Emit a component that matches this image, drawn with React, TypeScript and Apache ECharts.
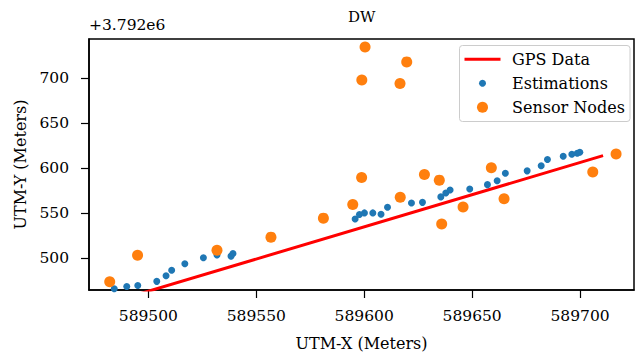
import React, { useEffect, useRef } from "react";
import * as echarts from "echarts";

const Y_OFFSET = 3792000;
const X_TICKS = [589500, 589550, 589600, 589650, 589700];
const Y_TICKS = [500, 550, 600, 650, 700];
const SERIES_NAMES = ["GPS Data", "Estimations", "Sensor Nodes"];
const SERIES_COLORS = ["#ff0000", "#1f77b4", "#ff7f0e"];

// GPS track (UTM-X, UTM-Y relative to offset)
const GPS_X = [589495, 589710];
const GPS_Y = [460.0, 613.6];

// Estimations
const EST_X = [
  589484.2, 589490.0, 589495.1, 589503.9, 589508.2, 589510.8, 589516.9, 589525.5,
  589531.8, 589538.3, 589539.2, 589595.8, 589597.8, 589600.1, 589604.0, 589607.8,
  589610.8, 589621.9, 589627.0, 589635.5, 589637.8, 589639.8, 589648.9, 589657.1,
  589661.6, 589665.4, 589675.5, 589682.0, 589684.9, 589692.2, 589696.2, 589698.7,
  589699.9,
];
const EST_Y = [
  466.2, 468.7, 469.8, 474.5, 480.7, 486.9, 494.1, 500.7,
  503.9, 502.5, 505.5, 543.7, 548.7, 550.5, 550.5, 549.1,
  556.8, 561.5, 562.2, 568.3, 572.7, 576.0, 577.1, 581.9,
  586.2, 594.5, 597.2, 602.9, 609.8, 613.5, 615.7, 616.8,
  617.9,
];

// Sensor nodes
const NODE_X = [
  589482.1, 589495.0, 589531.8, 589556.8, 589581.1, 589594.7, 589598.8, 589598.9,
  589600.4, 589619.7, 589616.6, 589627.9, 589634.8, 589616.7, 589635.9, 589645.8,
  589658.9, 589664.8, 589705.9, 589716.7,
];
const NODE_Y = [
  474.1, 503.6, 509.1, 523.6, 544.7, 559.8, 589.8, 698.1,
  734.6, 718.2, 694.2, 593.1, 586.9, 568.0, 538.2, 557.1,
  600.7, 566.1, 596.0, 616.0,
];

const FONT = "DejaVu Serif";

export default function App() {
  const ref = useRef<HTMLDivElement>(null);
  useEffect(() => {
    if (!ref.current) return;
    const chart = echarts.init(ref.current, null, { renderer: "svg" });
    const pair = (xs: number[], ys: number[]) => xs.map((x, i) => [x, ys[i] + Y_OFFSET]);
    const rowY = [59.3, 83.3, 107.3];
    chart.setOption({
      animation: false,
      title: {
        text: "DW",
        left: 348,
        top: 9,
        padding: 0,
        textStyle: { fontFamily: FONT, fontSize: 15, fontWeight: "normal", color: "#000" },
      },
      grid: {
        left: 89,
        top: 39,
        width: 545,
        height: 255.5,
        show: true,
        borderColor: "#000",
        borderWidth: 1.5,
        backgroundColor: "transparent",
      },
      xAxis: {
        type: "value",
        min: 589472.5,
        max: 589725,
        name: "UTM-X (Meters)",
        nameLocation: "middle",
        nameGap: 45,
        nameTextStyle: { fontFamily: FONT, fontSize: 16, color: "#000" },
        axisLine: { show: true, lineStyle: { color: "#000", width: 1.5 } },
        axisTick: { show: true, customValues: X_TICKS, length: 8, lineStyle: { color: "#000", width: 1.2 } },
        axisLabel: {
          customValues: X_TICKS,
          margin: 18,
          fontFamily: FONT,
          fontSize: 15.5,
          color: "#000",
          formatter: (v: number) => String(Math.round(v)),
        },
        splitLine: { show: false },
      },
      yAxis: {
        type: "value",
        min: Y_OFFSET + 464.9,
        max: Y_OFFSET + 743.6,
        name: "UTM-Y (Meters)",
        nameLocation: "middle",
        nameGap: 60,
        nameTextStyle: { fontFamily: FONT, fontSize: 16, color: "#000" },
        axisLine: { show: true, lineStyle: { color: "#000", width: 1.5 } },
        axisTick: {
          show: true,
          customValues: Y_TICKS.map((v) => v + Y_OFFSET),
          length: 8,
          lineStyle: { color: "#000", width: 1.2 },
        },
        axisLabel: {
          customValues: Y_TICKS.map((v) => v + Y_OFFSET),
          margin: 20,
          fontFamily: FONT,
          fontSize: 15.5,
          color: "#000",
          formatter: (v: number) => String(Math.round(v - Y_OFFSET)),
        },
        splitLine: { show: false },
      },
      legend: { show: false, data: SERIES_NAMES },
      graphic: [
        {
          type: "rect",
          z: 10,
          shape: { x: 459.5, y: 45.5, width: 170.5, height: 76, r: 3 },
          style: { fill: "rgba(255,255,255,0.8)", stroke: "#cccccc", lineWidth: 1 },
        },
        {
          type: "line",
          z: 11,
          shape: { x1: 466, y1: rowY[0], x2: 499, y2: rowY[0] },
          style: { stroke: SERIES_COLORS[0], lineWidth: 3, lineCap: "square" },
        },
        {
          type: "circle",
          z: 11,
          shape: { cx: 482.5, cy: rowY[1], r: 3.5 },
          style: { fill: SERIES_COLORS[1] },
        },
        {
          type: "circle",
          z: 11,
          shape: { cx: 482.5, cy: rowY[2], r: 5.5 },
          style: { fill: SERIES_COLORS[2] },
        },
        ...SERIES_NAMES.map((n, i) => ({
          type: "text",
          z: 11,
          style: {
            x: 512,
            y: rowY[i],
            text: n,
            font: `16px "${FONT}"`,
            fill: "#000",
            verticalAlign: "middle",
          },
        })),
        {
          type: "text",
          left: 89,
          top: 17,
          style: { text: "+3.792e6", font: `15.5px "${FONT}"`, fill: "#000" },
        },
      ],
      series: [
        {
          name: SERIES_NAMES[0],
          type: "line",
          data: pair(GPS_X, GPS_Y),
          symbol: "none",
          clip: true,
          lineStyle: { color: SERIES_COLORS[0], width: 3, cap: "square" },
          itemStyle: { color: SERIES_COLORS[0] },
          z: 1,
        },
        {
          name: SERIES_NAMES[1],
          type: "scatter",
          data: pair(EST_X, EST_Y),
          symbolSize: 7,
          itemStyle: { color: SERIES_COLORS[1], opacity: 1 },
          z: 2,
        },
        {
          name: SERIES_NAMES[2],
          type: "scatter",
          data: pair(NODE_X, NODE_Y),
          symbolSize: 11,
          itemStyle: { color: SERIES_COLORS[2], opacity: 1 },
          z: 3,
        },
      ],
    });
    return () => chart.dispose();
  }, []);
  return (
    <div
      ref={ref}
      style={{ position: "fixed", left: 0, top: 0, width: 635, height: 356, background: "#fff" }}
    />
  );
}
